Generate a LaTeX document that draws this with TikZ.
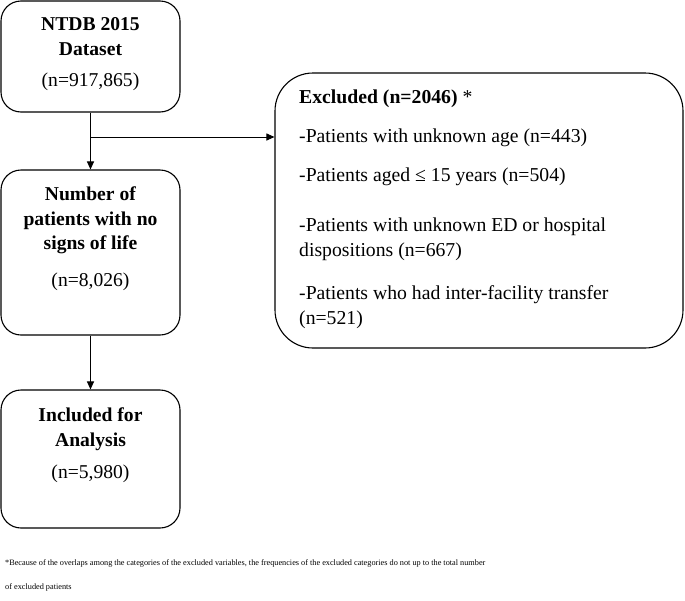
\documentclass[tikz,border=0pt]{standalone}
\usepackage{fontspec}
\setmainfont{Liberation Serif}
\usetikzlibrary{arrows.meta, positioning}

\begin{document}
\begin{tikzpicture}[x=1pt, y=-1pt, >={Triangle[length=8pt, width=7pt]},
    box/.style={draw, line width=1.1pt, rounded corners=20pt, minimum width=179pt},
    bigbox/.style={draw, line width=1.1pt, rounded corners=38pt, minimum width=408pt, minimum height=275pt},
    boxtext/.style={align=center, inner sep=0pt, font=\fontsize{19.6}{24.5}\selectfont},
    listtext/.style={align=left, inner sep=0pt, font=\fontsize{19.7}{24.5}\selectfont},
    notetext/.style={align=left, inner sep=0pt, font=\fontsize{8.25}{24}\selectfont}]
    \useasboundingbox (0,0) rectangle (685,600);
    % boxes
    \node[box, minimum height=111pt] (ntdb) at (90.5,56.5) {};
    \node[box, minimum height=165pt] (nosigns) at (90.5,252.5) {};
    \node[box, minimum height=138pt] (included) at (90.5,459) {};
    \node[bigbox] (excluded) at (479,210.5) {};
    % box texts
    \node[boxtext] (ntdbtxt) at (90.5,54.5) {\textbf{NTDB 2015}\\\textbf{Dataset}\\[7pt](n=917,865)};
    \node[boxtext] (nosignstxt) at (90.5,238.5) {\textbf{Number of}\\\textbf{patients with no}\\\textbf{signs of life}\\[12pt](n=8,026)};
    \node[boxtext] (includedtxt) at (90.5,445.5) {\textbf{Included for}\\\textbf{Analysis}\\[8pt](n=5,980)};
    \node[listtext, anchor=north west] (excludedtxt) at (299,89.5) {\textbf{Excluded (n=2046)} *\\[15pt]
        -Patients with unknown age (n=443)\\[14pt]
        -Patients aged ≤ 15 years (n=504)\\[26pt]
        -Patients with unknown ED or hospital\\
        dispositions (n=667)\\[19pt]
        -Patients who had inter-facility transfer\\
        (n=521)};
    % footnote
    \node[notetext, anchor=north west] (note) at (5,559) {*Because of the overlaps among the categories of the excluded variables, the frequencies of the excluded categories do not up to the total number\\
        of excluded patients};
    % arrows
    \coordinate (split) at (ntdb.south |- 0,137);
    \draw[->, line width=1pt] (ntdb.south) -- (nosigns.north);
    \draw[->, line width=1pt] (split) -- (split -| excluded.west);
    \draw[->, line width=1pt] (nosigns.south) -- (included.north);
\end{tikzpicture}
\end{document}
